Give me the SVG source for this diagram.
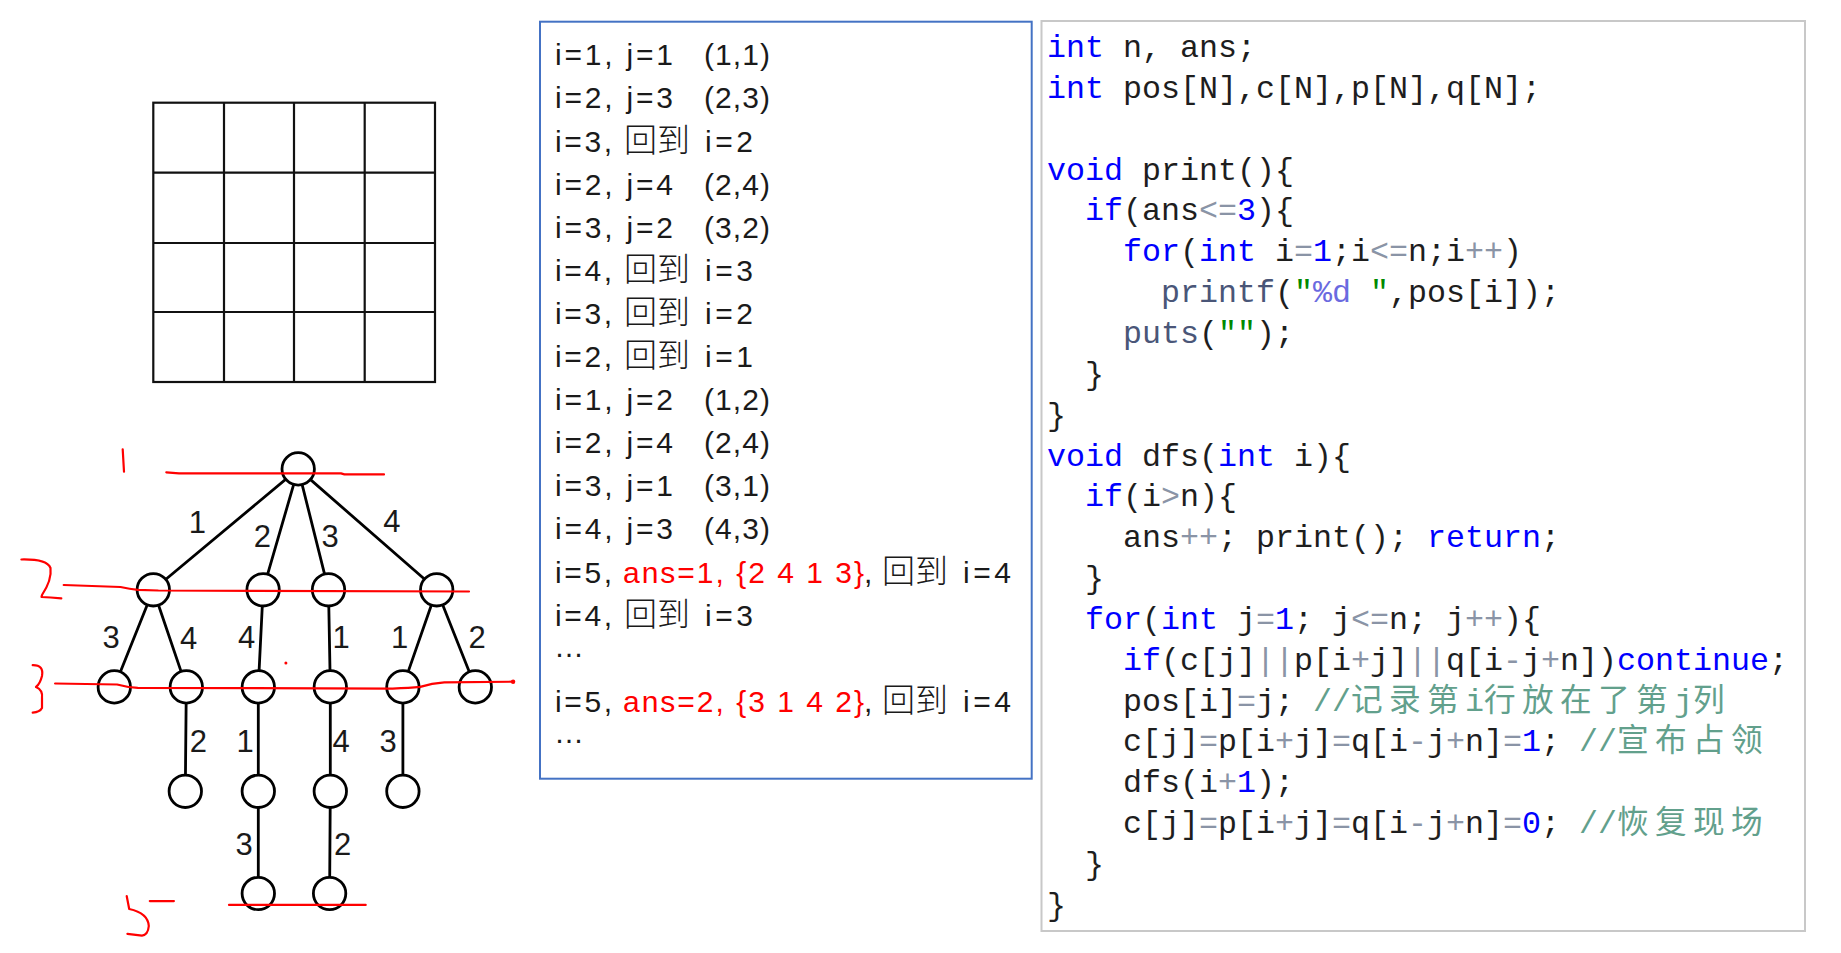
<svg xmlns="http://www.w3.org/2000/svg" width="1841" height="953" viewBox="0 0 1841 953">
<style>
.edge{stroke:#000;stroke-width:2.8;fill:none;stroke-linecap:round}
.node{fill:#fff;stroke:#000;stroke-width:2.8}
.lbl{font-family:"Liberation Sans",Arial,sans-serif;font-size:31px;fill:#1a1a1a;text-anchor:middle}
.red{stroke:#f00;stroke-width:2.2;fill:none;stroke-linecap:round;stroke-linejoin:round}
.grid{stroke:#111;stroke-width:2.2;fill:none}
.t{font-family:"Liberation Sans","Noto Sans CJK SC",sans-serif;font-size:30px;fill:#1a1a1a}
.tr{fill:#f00}
.cj{font-family:"Noto Sans CJK SC","Noto Sans CJK JP",sans-serif;font-size:33px;fill:#1a1a1a;font-weight:300}
.code{font-family:"Liberation Mono","DejaVu Sans Mono",monospace;font-size:31.67px;fill:#1e1e1e}
.k{fill:#0000ff}
.o{fill:#8a94a6}
.s{fill:#008a00}
.f{fill:#6a6ae0}
.fn{fill:#4a5678}
.cm{fill:#62a08c}
.cmc{font-family:"Liberation Mono","Noto Sans CJK SC",monospace;font-size:31.67px;fill:#62a08c}
</style>
<rect width="1841" height="953" fill="#fff"/>

<g id="board">
<rect class="grid" x="153.3" y="102.7" width="281.7" height="279.3"/>
<path class="grid" d="M224,102.7V382M294,102.7V382M364.7,102.7V382M153.3,172.7H435M153.3,243H435M153.3,312H435"/>
</g>

<g id="connectors">
<path class="edge" d="M298.2,468.9L153.3,589.8M298.2,468.9L263.1,589.8M298.2,468.9L328.5,589.8M298.2,468.9L436.7,589.8"/>
<path class="edge" d="M153.3,589.8L114.3,686.9M153.3,589.8L186.3,686.9M263.1,589.8L258.3,686.9M328.5,589.8L330.3,686.9M436.7,589.8L402.9,686.9M436.7,589.8L475.3,686.9"/>
<path class="edge" d="M186.3,686.9L185.3,791.3M258.3,686.9L258.3,791.3M330.3,686.9L330.3,791.3M402.9,686.9L402.9,791.3"/>
<path class="edge" d="M258.3,791.3L258.3,893.5M330.3,791.3L329.6,893.5"/>
</g>

<g id="n0"><circle class="node" cx="298.2" cy="468.9" r="16.2"/></g>
<g id="n1"><circle class="node" cx="153.3" cy="589.8" r="16.2"/></g>
<g id="n2"><circle class="node" cx="263.1" cy="589.8" r="16.2"/></g>
<g id="n3"><circle class="node" cx="328.5" cy="589.8" r="16.2"/></g>
<g id="n4"><circle class="node" cx="436.7" cy="589.8" r="16.2"/></g>
<g id="n5"><circle class="node" cx="114.3" cy="686.9" r="16.2"/></g>
<g id="n6"><circle class="node" cx="186.3" cy="686.9" r="16.2"/></g>
<g id="n7"><circle class="node" cx="258.3" cy="686.9" r="16.2"/></g>
<g id="n8"><circle class="node" cx="330.3" cy="686.9" r="16.2"/></g>
<g id="n9"><circle class="node" cx="402.9" cy="686.9" r="16.2"/></g>
<g id="n10"><circle class="node" cx="475.3" cy="686.9" r="16.2"/></g>
<g id="n11"><circle class="node" cx="185.3" cy="791.3" r="16.2"/></g>
<g id="n12"><circle class="node" cx="258.3" cy="791.3" r="16.2"/></g>
<g id="n13"><circle class="node" cx="330.3" cy="791.3" r="16.2"/></g>
<g id="n14"><circle class="node" cx="402.9" cy="791.3" r="16.2"/></g>
<g id="n15"><circle class="node" cx="258.3" cy="893.5" r="16.2"/></g>
<g id="n16"><circle class="node" cx="329.6" cy="893.5" r="16.2"/></g>

<g id="edge-labels">
<text class="lbl" x="197.3" y="533">1</text>
<text class="lbl" x="262.4" y="546.7">2</text>
<text class="lbl" x="330" y="547.4">3</text>
<text class="lbl" x="391.9" y="532.3">4</text>
<text class="lbl" x="111.2" y="648">3</text>
<text class="lbl" x="188.7" y="648.7">4</text>
<text class="lbl" x="246.6" y="648">4</text>
<text class="lbl" x="341" y="648">1</text>
<text class="lbl" x="399.5" y="648">1</text>
<text class="lbl" x="477" y="648">2</text>
<text class="lbl" x="198.4" y="751.6">2</text>
<text class="lbl" x="245.2" y="751.6">1</text>
<text class="lbl" x="341" y="751.6">4</text>
<text class="lbl" x="388.1" y="751.6">3</text>
<text class="lbl" x="244.2" y="855">3</text>
<text class="lbl" x="342.7" y="855">2</text>
</g>

<g id="annotations">
<path class="red" d="M122.7,449.3L124,471.7"/>
<path class="red" d="M166.3,472.3L179,473.4L341,473.4L344.4,474.4L384,474.4"/>
<path class="red" d="M21.4,559.5Q47,559 50.5,568Q52,580 42,595L41.5,597Q50,597.5 61.3,598.4"/>
<path class="red" d="M63.7,585L120.5,587Q130,589 137.8,589.8L158.4,590.5L469,591.5"/>
<path class="red" d="M32.7,665.2Q44,665 42,676Q40,684 36,687Q43,690 42,698L42,708Q40,712 32.7,712.7"/>
<path class="red" d="M55.1,683.5L117.1,684.5Q128,687.5 137.8,687.9L392.6,688.6Q410,688 420.2,686.9Q432,683 444.3,682.4L513.1,681.7"/>
<circle cx="513.1" cy="681.7" r="2.2" fill="#f00"/>
<circle cx="285.9" cy="663.1" r="1.5" fill="#f00"/>
<path class="red" d="M149.8,901.1L173.9,901.1"/>
<path class="red" d="M126.7,896L129.2,909Q148,913 148.8,926Q148,935 142,935.6L127.4,933.8"/>
<path class="red" d="M229,904.9L365.7,904.9"/>
</g>

<g id="trace-panel">
<rect x="540" y="21.7" width="491.7" height="757" fill="#fff" stroke="#4472c4" stroke-width="2"/>
<text class="t" x="555" y="65.3" textLength="118" lengthAdjust="spacing">i=1, j=1</text>
<text class="t" x="704" y="65.3" textLength="66" lengthAdjust="spacing">(1,1)</text>
<text class="t" x="555" y="108.4" textLength="118" lengthAdjust="spacing">i=2, j=3</text>
<text class="t" x="704" y="108.4" textLength="66" lengthAdjust="spacing">(2,3)</text>
<text class="t" x="555" y="151.5" textLength="57" lengthAdjust="spacing">i=3,</text>
<text class="cj" x="624" y="151.5">回到</text>
<text class="t" x="705" y="151.5" textLength="48" lengthAdjust="spacing">i=2</text>
<text class="t" x="555" y="194.6" textLength="118" lengthAdjust="spacing">i=2, j=4</text>
<text class="t" x="704" y="194.6" textLength="66" lengthAdjust="spacing">(2,4)</text>
<text class="t" x="555" y="237.7" textLength="118" lengthAdjust="spacing">i=3, j=2</text>
<text class="t" x="704" y="237.7" textLength="66" lengthAdjust="spacing">(3,2)</text>
<text class="t" x="555" y="280.8" textLength="57" lengthAdjust="spacing">i=4,</text>
<text class="cj" x="624" y="280.8">回到</text>
<text class="t" x="705" y="280.8" textLength="48" lengthAdjust="spacing">i=3</text>
<text class="t" x="555" y="323.9" textLength="57" lengthAdjust="spacing">i=3,</text>
<text class="cj" x="624" y="323.9">回到</text>
<text class="t" x="705" y="323.9" textLength="48" lengthAdjust="spacing">i=2</text>
<text class="t" x="555" y="367" textLength="57" lengthAdjust="spacing">i=2,</text>
<text class="cj" x="624" y="367">回到</text>
<text class="t" x="705" y="367" textLength="48" lengthAdjust="spacing">i=1</text>
<text class="t" x="555" y="410.1" textLength="118" lengthAdjust="spacing">i=1, j=2</text>
<text class="t" x="704" y="410.1" textLength="66" lengthAdjust="spacing">(1,2)</text>
<text class="t" x="555" y="453.2" textLength="118" lengthAdjust="spacing">i=2, j=4</text>
<text class="t" x="704" y="453.2" textLength="66" lengthAdjust="spacing">(2,4)</text>
<text class="t" x="555" y="496.3" textLength="118" lengthAdjust="spacing">i=3, j=1</text>
<text class="t" x="704" y="496.3" textLength="66" lengthAdjust="spacing">(3,1)</text>
<text class="t" x="555" y="539.4" textLength="118" lengthAdjust="spacing">i=4, j=3</text>
<text class="t" x="704" y="539.4" textLength="66" lengthAdjust="spacing">(4,3)</text>
<text class="t" x="555" y="582.5" textLength="57" lengthAdjust="spacing">i=5,</text>
<text class="t tr" x="623" y="582.5" textLength="241" lengthAdjust="spacing">ans=1, {2 4 1 3}</text>
<text class="t" x="864" y="582.5">,</text>
<text class="cj" x="882" y="582.5">回到</text>
<text class="t" x="963" y="582.5" textLength="48" lengthAdjust="spacing">i=4</text>
<text class="t" x="555" y="625.6" textLength="57" lengthAdjust="spacing">i=4,</text>
<text class="cj" x="624" y="625.6">回到</text>
<text class="t" x="705" y="625.6" textLength="48" lengthAdjust="spacing">i=3</text>
<text class="t" x="554" y="656.7">…</text>
<text class="t" x="555" y="711.7" textLength="57" lengthAdjust="spacing">i=5,</text>
<text class="t tr" x="623" y="711.7" textLength="241" lengthAdjust="spacing">ans=2, {3 1 4 2}</text>
<text class="t" x="864" y="711.7">,</text>
<text class="cj" x="882" y="711.7">回到</text>
<text class="t" x="963" y="711.7" textLength="48" lengthAdjust="spacing">i=4</text>
<text class="t" x="554" y="743.3">…</text>
</g>

<g id="code-panel">
<rect x="1041.5" y="21" width="763.5" height="910" fill="#fff" stroke="#c8c8c8" stroke-width="2"/>
<text class="code" xml:space="preserve" x="1047" y="57"><tspan class="k">int</tspan> n, ans;</text>
<text class="code" xml:space="preserve" x="1047" y="97.85"><tspan class="k">int</tspan> pos[N],c[N],p[N],q[N];</text>
<text class="code" xml:space="preserve" x="1047" y="179.55"><tspan class="k">void</tspan> print(){</text>
<text class="code" xml:space="preserve" x="1085" y="220.4"><tspan class="k">if</tspan>(ans<tspan class="o">&lt;=</tspan><tspan class="k">3</tspan>){</text>
<text class="code" xml:space="preserve" x="1123" y="261.25"><tspan class="k">for</tspan>(<tspan class="k">int</tspan> i<tspan class="o">=</tspan><tspan class="k">1</tspan>;i<tspan class="o">&lt;=</tspan>n;i<tspan class="o">++</tspan>)</text>
<text class="code" xml:space="preserve" x="1161" y="302.1"><tspan class="fn">printf</tspan>(<tspan class="s">"</tspan><tspan class="f">%d</tspan> <tspan class="s">"</tspan>,pos[i]);</text>
<text class="code" xml:space="preserve" x="1123" y="342.95"><tspan class="fn">puts</tspan>(<tspan class="s">""</tspan>);</text>
<text class="code" xml:space="preserve" x="1085" y="383.8">}</text>
<text class="code" xml:space="preserve" x="1047" y="424.65">}</text>
<text class="code" xml:space="preserve" x="1047" y="465.5"><tspan class="k">void</tspan> dfs(<tspan class="k">int</tspan> i){</text>
<text class="code" xml:space="preserve" x="1085" y="506.35"><tspan class="k">if</tspan>(i<tspan class="o">&gt;</tspan>n){</text>
<text class="code" xml:space="preserve" x="1123" y="547.2">ans<tspan class="o">++</tspan>; print(); <tspan class="k">return</tspan>;</text>
<text class="code" xml:space="preserve" x="1085" y="588.05">}</text>
<text class="code" xml:space="preserve" x="1085" y="628.9"><tspan class="k">for</tspan>(<tspan class="k">int</tspan> j<tspan class="o">=</tspan><tspan class="k">1</tspan>; j<tspan class="o">&lt;=</tspan>n; j<tspan class="o">++</tspan>){</text>
<text class="code" xml:space="preserve" x="1123" y="669.75"><tspan class="k">if</tspan>(c[j]<tspan class="o">||</tspan>p[i<tspan class="o">+</tspan>j]<tspan class="o">||</tspan>q[i<tspan class="o">-</tspan>j<tspan class="o">+</tspan>n])<tspan class="k">continue</tspan>;</text>
<text class="code" xml:space="preserve" x="1123" y="710.6">pos[i]<tspan class="o">=</tspan>j; <tspan class="cm">//</tspan></text>
<text class="cmc" x="1351 1389 1427 1465 1484 1522 1560 1598 1636 1674 1693" y="710.6">记录第i行放在了第j列</text>
<text class="code" xml:space="preserve" x="1123" y="751.45">c[j]<tspan class="o">=</tspan>p[i<tspan class="o">+</tspan>j]<tspan class="o">=</tspan>q[i<tspan class="o">-</tspan>j<tspan class="o">+</tspan>n]<tspan class="o">=</tspan><tspan class="k">1</tspan>; <tspan class="cm">//</tspan></text>
<text class="cmc" x="1617 1655 1693 1731" y="751.45">宣布占领</text>
<text class="code" xml:space="preserve" x="1123" y="792.3">dfs(i<tspan class="o">+</tspan><tspan class="k">1</tspan>);</text>
<text class="code" xml:space="preserve" x="1123" y="833.15">c[j]<tspan class="o">=</tspan>p[i<tspan class="o">+</tspan>j]<tspan class="o">=</tspan>q[i<tspan class="o">-</tspan>j<tspan class="o">+</tspan>n]<tspan class="o">=</tspan><tspan class="k">0</tspan>; <tspan class="cm">//</tspan></text>
<text class="cmc" x="1617 1655 1693 1731" y="833.15">恢复现场</text>
<text class="code" xml:space="preserve" x="1085" y="874">}</text>
<text class="code" xml:space="preserve" x="1047" y="914.85">}</text>
</g>
</svg>
